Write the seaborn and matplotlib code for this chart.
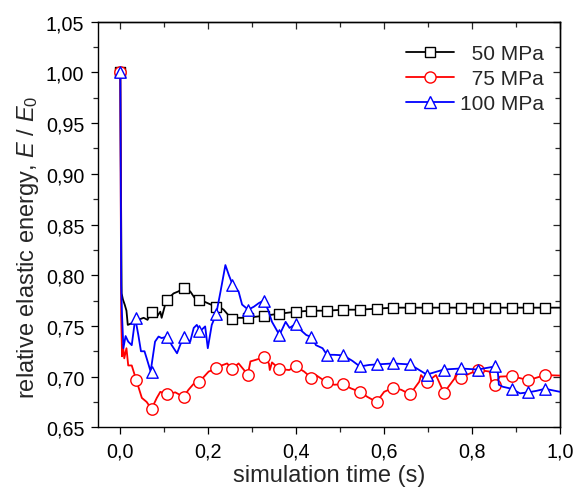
import matplotlib
matplotlib.use("Agg")
import matplotlib.pyplot as plt
import seaborn as sns
import pandas as pd
from matplotlib.lines import Line2D
from matplotlib.ticker import MultipleLocator, FixedLocator, FixedFormatter

sns.set_theme(style="ticks")
plt.rcParams['font.family'] = ['Liberation Sans', 'DejaVu Sans']
plt.rcParams['mathtext.fontset'] = 'custom'
plt.rcParams['mathtext.rm'] = 'Liberation Sans'
plt.rcParams['mathtext.it'] = 'Liberation Sans:italic'

# ---------------- data ----------------
series_names = ["\u200750 MPa", "\u200775 MPa", "100 MPa"]
series_colors = ["#000000", "#FF0000", "#0000FF"]
series_markers = ["s", "o", "^"]

t_50 = [0, 0.003, 0.006, 0.010, 0.014, 0.017, 0.028, 0.036, 0.041, 0.053,
        0.062, 0.071, 0.083, 0.091, 0.094, 0.102, 0.107, 0.121, 0.132, 0.144,
        0.159, 0.170, 0.180, 0.201, 0.217, 0.224, 0.235, 0.245, 0.254, 0.269,
        0.290, 0.307, 0.326, 0.362, 0.399, 0.434, 0.470, 0.507, 0.545, 0.583,
        0.621, 0.659, 0.697, 0.736, 0.774, 0.813, 0.852, 0.890, 0.928, 0.966, 1.0]
e_50 = [1.0, 0.782, 0.776, 0.771, 0.765, 0.751, 0.753, 0.757, 0.756, 0.758,
        0.756, 0.764, 0.759, 0.764, 0.758, 0.771, 0.776, 0.782, 0.784, 0.787,
        0.784, 0.777, 0.776, 0.772, 0.769, 0.769, 0.766, 0.761, 0.757, 0.758,
        0.758, 0.759, 0.760, 0.762, 0.764, 0.765, 0.765, 0.766, 0.766, 0.767,
        0.768, 0.768, 0.768, 0.768, 0.768, 0.768, 0.768, 0.768, 0.768, 0.768, 0.768]

t_75 = [0, 0.002, 0.004, 0.006, 0.009, 0.014, 0.018, 0.026, 0.036, 0.049,
        0.060, 0.071, 0.083, 0.091, 0.107, 0.125, 0.144, 0.155, 0.171, 0.180,
        0.201, 0.217, 0.224, 0.243, 0.254, 0.269, 0.290, 0.296, 0.304, 0.326,
        0.338, 0.340, 0.345, 0.362, 0.384, 0.399, 0.418, 0.434, 0.445, 0.469,
        0.486, 0.507, 0.524, 0.545, 0.562, 0.583, 0.600, 0.621, 0.639, 0.659,
        0.680, 0.684, 0.697, 0.718, 0.736, 0.760, 0.764, 0.774, 0.813, 0.840,
        0.845, 0.852, 0.863, 0.890, 0.928, 0.966, 1.0]
e_75 = [1.0, 0.760, 0.720, 0.731, 0.718, 0.728, 0.711, 0.711, 0.697, 0.679,
        0.675, 0.668, 0.679, 0.685, 0.6825, 0.6845, 0.680, 0.687, 0.695, 0.695,
        0.705, 0.7075, 0.710, 0.713, 0.7075, 0.713, 0.702, 0.715, 0.716, 0.719,
        0.713, 0.7065, 0.714, 0.7075, 0.7065, 0.710, 0.705, 0.699, 0.7015, 0.6945,
        0.692, 0.6925, 0.6885, 0.685, 0.680, 0.675, 0.685, 0.689, 0.687, 0.6825,
        0.695, 0.7015, 0.6945, 0.7015, 0.684, 0.698, 0.703, 0.699, 0.7065, 0.705,
        0.692, 0.692, 0.700, 0.7005, 0.6965, 0.7015, 0.701]

t_100 = [0, 0.002, 0.004, 0.007, 0.012, 0.018, 0.026, 0.034, 0.041, 0.047,
         0.055, 0.060, 0.069, 0.079, 0.087, 0.094, 0.107, 0.117, 0.129, 0.136,
         0.145, 0.159, 0.167, 0.174, 0.182, 0.193, 0.199, 0.208, 0.218, 0.228,
         0.239, 0.247, 0.256, 0.269, 0.277, 0.291, 0.304, 0.315, 0.326, 0.336,
         0.345, 0.362, 0.376, 0.385, 0.399, 0.410, 0.423, 0.435, 0.445, 0.460,
         0.470, 0.486, 0.507, 0.528, 0.545, 0.566, 0.583, 0.621, 0.659, 0.680,
         0.697, 0.736, 0.774, 0.813, 0.852, 0.859, 0.861, 0.870, 0.890, 0.909,
         0.928, 0.947, 0.966, 1.0]
e_100 = [1.0, 0.790, 0.760, 0.728, 0.740, 0.7345, 0.731, 0.7575, 0.741, 0.725,
         0.725, 0.718, 0.705, 0.7345, 0.7395, 0.738, 0.7395, 0.731, 0.723, 0.731,
         0.7395, 0.7345, 0.748, 0.751, 0.745, 0.7495, 0.728, 0.751, 0.7615, 0.784,
         0.810, 0.800, 0.790, 0.784, 0.771, 0.766, 0.769, 0.7725, 0.775, 0.766,
         0.754, 0.741, 0.754, 0.748, 0.752, 0.746, 0.741, 0.739, 0.731, 0.728,
         0.7215, 0.7215, 0.721, 0.7155, 0.710, 0.7115, 0.712, 0.713, 0.712, 0.7065,
         0.702, 0.707, 0.708, 0.707, 0.710, 0.703, 0.692, 0.690, 0.688, 0.6835,
         0.6845, 0.686, 0.688, 0.685]

# marker (symbol) positions
tm_50 = [0, 0.071, 0.107, 0.144, 0.180, 0.217, 0.254, 0.290, 0.326, 0.362,
         0.399, 0.434, 0.470, 0.507, 0.545, 0.583, 0.621, 0.659, 0.697, 0.736,
         0.774, 0.813, 0.852, 0.890, 0.928, 0.966]
em_50 = [1.0, 0.764, 0.776, 0.787, 0.776, 0.769, 0.757, 0.758, 0.760, 0.762,
         0.764, 0.765, 0.765, 0.766, 0.766, 0.767, 0.768, 0.768, 0.768, 0.768,
         0.768, 0.768, 0.768, 0.768, 0.768, 0.768]
tm_all = [0, 0.036, 0.071, 0.107, 0.144, 0.180, 0.217, 0.254, 0.290, 0.326,
          0.362, 0.399, 0.434, 0.470, 0.507, 0.545, 0.583, 0.621, 0.659, 0.697,
          0.736, 0.774, 0.813, 0.852, 0.890, 0.928, 0.966]
em_75 = [1.0, 0.697, 0.668, 0.6825, 0.680, 0.695, 0.708, 0.7075, 0.702, 0.719,
         0.7075, 0.710, 0.699, 0.6945, 0.6925, 0.685, 0.675, 0.689, 0.6825, 0.6945,
         0.684, 0.699, 0.7065, 0.692, 0.7005, 0.6965, 0.7015]
em_100 = [1.0, 0.7575, 0.705, 0.7395, 0.7395, 0.745, 0.7615, 0.790, 0.766, 0.775,
          0.741, 0.752, 0.739, 0.7215, 0.721, 0.710, 0.712, 0.713, 0.712, 0.702,
          0.707, 0.708, 0.707, 0.710, 0.688, 0.6845, 0.688]

x_ticks = [0.0, 0.2, 0.4, 0.6, 0.8, 1.0]
x_ticklabels = ["0,0", "0,2", "0,4", "0,6", "0,8", "1,0"]
y_ticks = [0.65, 0.70, 0.75, 0.80, 0.85, 0.90, 0.95, 1.00, 1.05]
y_ticklabels = ["0,65", "0,70", "0,75", "0,80", "0,85", "0,90", "0,95", "1,00", "1,05"]
x_label = "simulation time (s)"
y_label = "relative elastic energy, $\\it{E}$ / $\\it{E}_0$"

lines = [(t_50, e_50), (t_75, e_75), (t_100, e_100)]
marks = [(tm_50, em_50), (tm_all, em_75), (tm_all, em_100)]

# ---------------- figure ----------------
fig = plt.figure(figsize=(5.77, 4.89), dpi=100)
ax = fig.add_axes([0.1704, 0.1241, 0.8001, 0.8295])

FS_TICK = 14.2
FS_LABEL = 17
FS_LEG = 15
for i in range(3):
    df = pd.DataFrame({"t": lines[i][0], "E": lines[i][1]})
    sns.lineplot(data=df, x="t", y="E", ax=ax, color=series_colors[i],
                 linewidth=1.3, sort=False, estimator=None, zorder=2 + 2 * i)
    dm = pd.DataFrame({"t": marks[i][0], "E": marks[i][1]})
    sns.scatterplot(data=dm, x="t", y="E", ax=ax, marker=series_markers[i],
                    s=(7.0 if series_markers[i] == "s" else 8.2) ** 2,
                    facecolor="white", edgecolor=series_colors[i],
                    linewidth=1.0, zorder=3 + 2 * i)

ax.set_xlim(-0.05, 1.0)
ax.set_ylim(0.65, 1.05)
ax.xaxis.set_major_locator(FixedLocator(x_ticks))
ax.xaxis.set_major_formatter(FixedFormatter(x_ticklabels))
ax.xaxis.set_minor_locator(MultipleLocator(0.1))
ax.yaxis.set_major_locator(FixedLocator(y_ticks))
ax.yaxis.set_major_formatter(FixedFormatter(y_ticklabels))
ax.yaxis.set_minor_locator(MultipleLocator(0.025))

ax.tick_params(which="major", direction="out", length=5, width=0.9,
               labelsize=FS_TICK, colors="black", pad=5)
ax.tick_params(which="minor", direction="out", length=3.3, width=0.9)
for sp in ax.spines.values():
    sp.set_linewidth(1.0)
    sp.set_color("black")

secx = ax.secondary_xaxis("top")
secx.xaxis.set_major_locator(FixedLocator(x_ticks))
secx.xaxis.set_minor_locator(MultipleLocator(0.1))
secx.tick_params(which="major", direction="in", length=5, width=0.9, labeltop=False)
secx.tick_params(which="minor", direction="in", length=3.3, width=0.9)
secx.set_xticklabels([])
secy = ax.secondary_yaxis("right")
secy.yaxis.set_major_locator(FixedLocator(y_ticks))
secy.yaxis.set_minor_locator(MultipleLocator(0.025))
secy.tick_params(which="major", direction="in", length=5, width=0.9, labelright=False)
secy.tick_params(which="minor", direction="in", length=3.3, width=0.9)
secy.set_yticklabels([])
for s in (secx, secy):
    for sp in s.spines.values():
        sp.set_linewidth(1.0)

ax.set_xlabel(x_label, fontsize=FS_LABEL, labelpad=2.5)
ax.set_ylabel(y_label, fontsize=FS_LABEL)
ax.yaxis.set_label_coords(-0.125, 0.447)

handles = [Line2D([0], [0], color=series_colors[i], lw=1.3,
                  marker=series_markers[i], markersize=(7.0 if i == 0 else 8.0),
                  markerfacecolor="white", markeredgecolor=series_colors[i],
                  markeredgewidth=1.0) for i in range(3)]
ax.legend(handles, series_names, loc="upper right", bbox_to_anchor=(0.965, 0.945),
          frameon=False, fontsize=FS_LEG, handlelength=2.3, handletextpad=0.3,
          labelspacing=0.3, borderpad=0, borderaxespad=0)

fig.savefig("out.png", dpi=100)
